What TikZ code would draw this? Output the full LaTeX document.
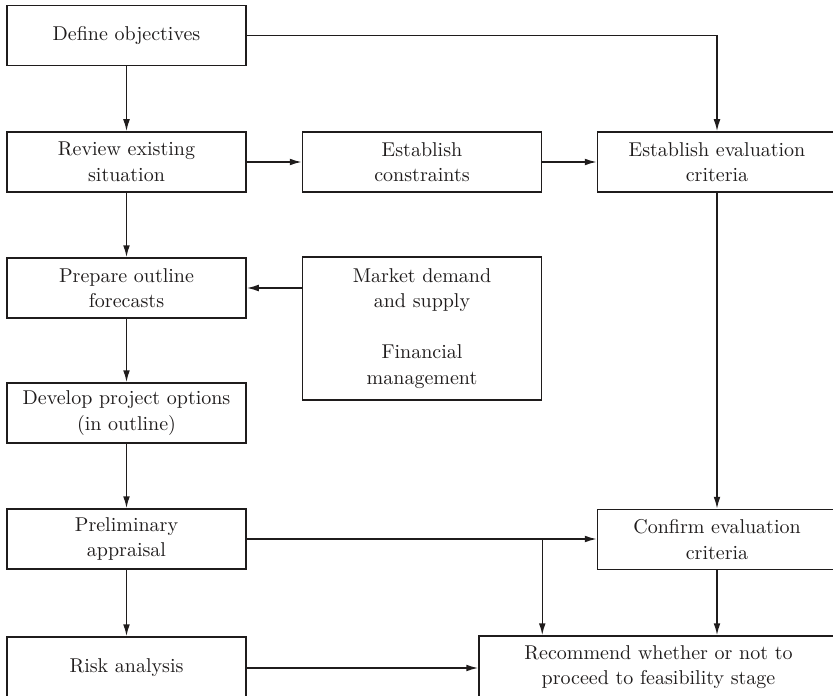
\documentclass[tikz,border=0pt]{standalone}
\usetikzlibrary{arrows.meta,calc}
\definecolor{InkClr}{rgb}{0.12,0.11,0.11}

\begin{document}
\begin{tikzpicture}[x=0.5pt,y=-0.5pt,
  box/.style={draw=InkClr,line width=0.75pt,text=InkClr,align=center,
    minimum width=119.5pt,minimum height=30pt,inner sep=0pt,
    font=\fontsize{10}{12.8}\selectfont},
  flow/.style={draw=InkClr,line width=0.75pt,-{Latex[length=6pt,width=3.4pt]}}]
\clip (0,0) rectangle (833,695);

% left column
\node[box] (objectives) at (126.5,35.5) {Define objectives};
\node[box] (review) at (126.5,162) {Review existing\\situation};
\node[box] (forecasts) at (126.5,288) {Prepare outline\\forecasts};
\node[box] (options) at (126.5,413) {Develop project options\\(in outline)};
\node[box] (appraisal) at (126.5,539) {Preliminary\\appraisal};
\node[box,minimum height=31pt] (risk) at (126.5,668) {Risk analysis};

% middle and right
\node[box] (constraints) at (422,162) {Establish\\constraints};
\node[box,minimum height=71.5pt] (market) at (422,328.5)
  {Market demand\\and supply\\[12.8pt]Financial\\management};
\node[box] (criteria) at (717,162) {Establish evaluation\\criteria};
\node[box] (confirm) at (717,539.5) {Confirm evaluation\\criteria};
\node[box,minimum width=179.5pt,minimum height=31pt] (recommend) at (658.5,667)
  {Recommend whether or not to\\proceed to feasibility stage};

\coordinate (split) at ($(constraints.east |- appraisal.east)$);

\draw[flow] (objectives.east) -| (criteria.north);
\draw[flow] (objectives) -- (review);
\draw[flow] (review) -- (constraints);
\draw[flow] (constraints) -- (criteria);
\draw[flow] (review) -- (forecasts);
\draw[flow] (market.west |- forecasts.east) -- (forecasts.east);
\draw[flow] (forecasts) -- (options);
\draw[flow] (options) -- (appraisal);
\draw[flow] (appraisal) -- (risk);
\draw[flow] (criteria) -- (confirm);
\draw[flow] (appraisal.east) -- (appraisal.east -| confirm.west);
\draw[flow] (split) -- (split |- recommend.north);
\draw[flow] (confirm.south) -- (confirm.south |- recommend.north);
\draw[flow] (risk.east) -- (risk.east -| recommend.west);
\end{tikzpicture}
\end{document}
